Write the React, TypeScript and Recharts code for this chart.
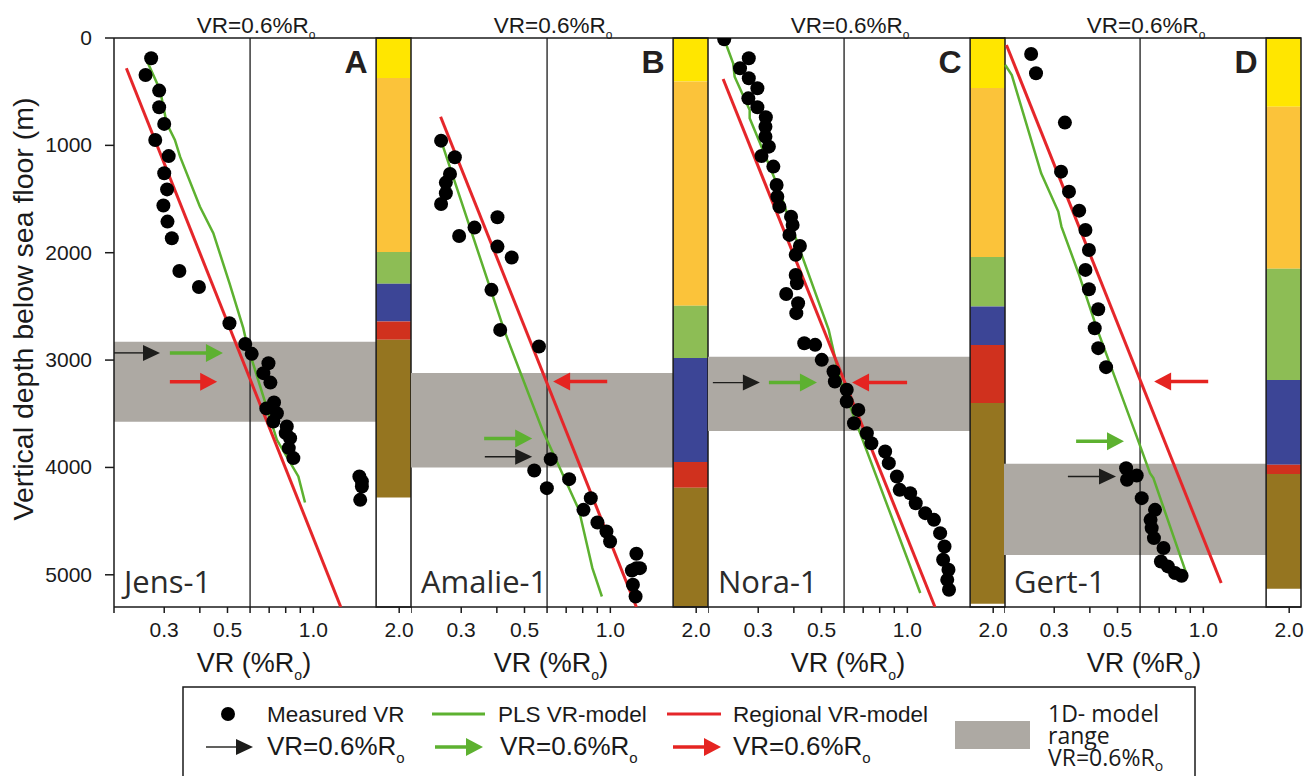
import React from "react";
import {
  ComposedChart,
  Scatter,
  XAxis,
  YAxis,
  ReferenceArea,
  ReferenceLine,
} from "recharts";

// axis ticks
const vrTicks = [0.2, 0.3, 0.4, 0.5, 0.6, 0.7, 0.8, 0.9, 1.0, 2.0];
const vrLabelled = [0.3, 0.5, 1.0, 2.0];
const depthTicks = [0, 1000, 2000, 3000, 4000, 5000];

// stratigraphic units, top to base
const unitColors = ["#FFE600", "#FBC33A", "#8DBD55", "#3C4596", "#D0311E", "#957520"];

// ---- Jens-1 ----
const jensMeasured = [
  [0.27, 189], [0.258, 345], [0.288, 490], [0.288, 645], [0.3, 800], [0.279, 950],
  [0.311, 1100], [0.3, 1260], [0.307, 1410], [0.298, 1560], [0.308, 1710], [0.319, 1865],
  [0.339, 2170], [0.397, 2320], [0.508, 2657], [0.577, 2850], [0.608, 2942], [0.696, 3030],
  [0.668, 3122], [0.707, 3210], [0.728, 3395], [0.684, 3450], [0.745, 3495], [0.724, 3572],
  [0.807, 3618], [0.8, 3680], [0.829, 3727], [0.82, 3820], [0.851, 3913], [1.45, 4084],
  [1.48, 4130], [1.48, 4178], [1.46, 4302],
];
const jensPls = [
  [0.258, 183], [0.29, 484], [0.306, 795], [0.327, 950], [0.341, 1105], [0.4, 1570],
  [0.446, 1818], [0.508, 2284], [0.568, 2703], [0.584, 2843], [0.668, 3340], [0.745, 3743],
  [0.886, 4084], [0.935, 4327],
];
const jensRegional = [[0.221, 282], [1.248, 5300]];
const jensColumn = [0, 372, 1993, 2290, 2640, 2810, 4280];
const jensBand = [2830, 3575];
const jensArrows = [
  { kind: "black", from: 0.2, to: 0.29, depth: 2933 },
  { kind: "green", from: 0.314, to: 0.482, depth: 2933 },
  { kind: "red", from: 0.314, to: 0.46, depth: 3203 },
];

// ---- Amalie-1 ----
const amalieMeasured = [
  [0.255, 956], [0.285, 1111], [0.274, 1266], [0.265, 1347], [0.265, 1446], [0.255, 1546],
  [0.295, 1844], [0.334, 1766], [0.402, 1670], [0.402, 1943], [0.451, 2045], [0.383, 2346],
  [0.411, 2719], [0.562, 2874], [0.618, 3923], [0.541, 4029], [0.599, 4193], [0.717, 4109],
  [0.854, 4286], [0.805, 4395], [0.901, 4513], [0.969, 4597], [0.998, 4690], [1.234, 4804],
  [1.234, 4938], [1.27, 4938], [1.19, 4960], [1.2, 5093], [1.226, 5202],
];
const amaliePls = [
  [0.255, 956], [0.424, 2719], [0.578, 3651], [0.776, 4395], [0.865, 4938], [0.934, 5202],
];
const amalieRegional = [[0.254, 733], [1.234, 5300]];
const amalieColumn = [0, 405, 2495, 2980, 3950, 4190, 5300];
const amalieBand = [3120, 4000];
const amalieArrows = [
  { kind: "red", from: 0.975, to: 0.63, depth: 3200 },
  { kind: "green", from: 0.361, to: 0.532, depth: 3730 },
  { kind: "black", from: 0.363, to: 0.532, depth: 3900 },
];

// ---- Nora-1 ----
const noraMeasured = [
  [0.228, 12], [0.278, 189], [0.259, 282], [0.278, 375], [0.298, 468], [0.277, 562],
  [0.298, 645], [0.319, 738], [0.318, 826], [0.318, 919], [0.327, 1012], [0.308, 1099],
  [0.339, 1198], [0.348, 1369], [0.35, 1478], [0.356, 1571], [0.391, 1664], [0.396, 1741],
  [0.386, 1834], [0.42, 1937], [0.406, 2020], [0.406, 2207], [0.41, 2284], [0.376, 2384],
  [0.414, 2470], [0.408, 2563], [0.435, 2843], [0.475, 2858], [0.501, 2998], [0.551, 3107],
  [0.557, 3200], [0.613, 3277], [0.613, 3386], [0.673, 3464], [0.65, 3588], [0.721, 3681],
  [0.748, 3775], [0.836, 3852], [0.861, 3960], [0.919, 4084], [0.94, 4209], [1.023, 4240],
  [1.07, 4333], [1.155, 4426], [1.24, 4488], [1.303, 4612], [1.35, 4736], [1.335, 4860],
  [1.394, 4953], [1.38, 5047], [1.4, 5140],
];
const noraPls = [
  [0.228, 12], [0.245, 235], [0.248, 360], [0.28, 670], [0.28, 748], [0.348, 1353],
  [0.42, 1974], [0.53, 2719], [0.581, 3184], [1.11, 5170],
];
const noraRegional = [[0.226, 382], [1.25, 5300]];
const noraColumn = [0, 465, 2040, 2500, 2860, 3400, 5270];
const noraBand = [2970, 3660];
const noraArrows = [
  { kind: "black", from: 0.208, to: 0.304, depth: 3210 },
  { kind: "green", from: 0.327, to: 0.482, depth: 3210 },
  { kind: "red", from: 0.998, to: 0.64, depth: 3210 },
];

// ---- Gert-1 ----
const gertMeasured = [
  [0.249, 149], [0.259, 329], [0.327, 788], [0.317, 1245], [0.338, 1431], [0.367, 1608],
  [0.386, 1788], [0.397, 1974], [0.386, 2160], [0.397, 2340], [0.428, 2526], [0.416, 2703],
  [0.428, 2889], [0.456, 3066], [0.536, 4007], [0.584, 4075], [0.54, 4115], [0.608, 4286],
  [0.677, 4395], [0.653, 4488], [0.659, 4565], [0.671, 4658], [0.725, 4751], [0.71, 4876],
  [0.751, 4922], [0.796, 4984], [0.839, 5009],
];
const gertPls = [
  [0.202, 251], [0.213, 345], [0.27, 1260], [0.31, 1617], [0.318, 1757], [0.365, 2191],
  [0.423, 2703], [0.584, 3713], [0.65, 4053], [0.668, 4100], [0.875, 5000],
];
const gertRegional = [[0.204, 65], [1.155, 5077]];
const gertColumn = [0, 640, 2150, 3185, 3975, 4060, 5130];
const gertBand = [3965, 4815];
const gertArrows = [
  { kind: "red", from: 1.04, to: 0.672, depth: 3200 },
  { kind: "green", from: 0.358, to: 0.527, depth: 3755 },
  { kind: "black", from: 0.335, to: 0.494, depth: 4085 },
];

const pts = (arr: number[][]) => arr.map(([x, y]) => ({ x, y }));

const wells = [
  { name: "Jens-1", letter: "A", measured: jensMeasured, pls: jensPls, regional: jensRegional, column: jensColumn, band: jensBand, arrows: jensArrows },
  { name: "Amalie-1", letter: "B", measured: amalieMeasured, pls: amaliePls, regional: amalieRegional, column: amalieColumn, band: amalieBand, arrows: amalieArrows },
  { name: "Nora-1", letter: "C", measured: noraMeasured, pls: noraPls, regional: noraRegional, column: noraColumn, band: noraBand, arrows: noraArrows },
  { name: "Gert-1", letter: "D", measured: gertMeasured, pls: gertPls, regional: gertRegional, column: gertColumn, band: gertBand, arrows: gertArrows },
];

const FONT = "'Liberation Sans', Arial, sans-serif";
const MYRIAD = "'Open Sans', sans-serif";
const INK = "#1a1a1a";
const PLS_GREEN = "#5DB130";
const REG_RED = "#E5262A";
const BAND_GREY = "#ADA9A3";
const COL_LEFT = 1.66;

const panelLefts = [114, 411, 708, 1004];
const PLOT_W = 297;

const arrowStyles: any = {
  black: { color: "#1d1d1b", width: 1.4, len: 17, half: 8 },
  green: { color: PLS_GREEN, width: 3.5, len: 17, half: 9 },
  red: { color: "#E52421", width: 3.5, len: 17, half: 9 },
};

const drawArrow = (kind: string, x1: number, x2: number, y: number, key?: any) => {
  const s = arrowStyles[kind];
  const dir = x2 >= x1 ? 1 : -1;
  const base = x2 - dir * s.len;
  return (
    <g key={key}>
      <line x1={x1} y1={y} x2={base + dir * 2} y2={y} stroke={s.color} strokeWidth={s.width} />
      <polygon points={`${x2},${y} ${base},${y - s.half} ${base},${y + s.half}`} fill={s.color} />
    </g>
  );
};

const arrowShape = (kind: string) => (p: any) => drawArrow(kind, p.x1, p.x2, p.y1);

const Dot = (p: any) => <circle cx={p.cx} cy={p.cy} r={7} fill="#000" />;
const NoDot = () => <g />;

const VrTick = (p: any) => {
  const v = p.payload.value;
  if (!vrLabelled.includes(v)) return <g />;
  return (
    <text x={p.x} y={p.y + 22} textAnchor="middle" fontSize={21} fontFamily={FONT} fill={INK}>
      {v.toFixed(1)}
    </text>
  );
};

// depth labels sit 22px left of the axis line (axis is at x=114 in panel A)
const DepthTick = (p: any) => (
  <text x={92} y={p.y} dy={7} textAnchor="end" fontSize={21} fontFamily={FONT} fill={INK}>
    {p.payload.value}
  </text>
);

const TopLabel = (p: any) => {
  const vb = p.viewBox;
  return (
    <text x={vb.x + 6} y={vb.y - 5} textAnchor="middle" fontSize={22.5} fontFamily={FONT} fill={INK}>
      VR=0.6%R<tspan fontSize={12} dy={6}>o</tspan>
    </text>
  );
};

const Panel = ({ well, left, first }: any) => {
  const yw = first ? 114 : 0;
  return (
    <div style={{ position: "absolute", left: left - yw, top: 0 }}>
      <ComposedChart
        width={yw + PLOT_W + 4}
        height={680}
        margin={{ top: 38, right: 4, bottom: 0, left: 0 }}
      >
        <XAxis
          dataKey="x"
          type="number"
          scale="log"
          domain={[0.2, 2.2]}
          ticks={vrTicks}
          interval={0}
          allowDataOverflow
          tick={<VrTick />}
          tickSize={6}
          height={73}
          stroke={INK}
          strokeWidth={1.5}
        />
        <YAxis
          dataKey="y"
          type="number"
          domain={[0, 5300]}
          reversed
          ticks={depthTicks}
          interval={0}
          allowDataOverflow
          width={yw}
          tick={first ? <DepthTick /> : false}
          tickLine={first}
          tickSize={9}
          stroke={INK}
          strokeWidth={1.5}
        />
        <ReferenceArea
          x1={0.2}
          x2={COL_LEFT}
          y1={well.band[0]}
          y2={well.band[1]}
          fill={BAND_GREY}
          fillOpacity={1}
          stroke="none"
        />
        {unitColors.map((c, i) => (
          <ReferenceArea
            key={c}
            x1={COL_LEFT}
            x2={2.2}
            y1={well.column[i]}
            y2={well.column[i + 1]}
            fill={c}
            fillOpacity={1}
            stroke="none"
          />
        ))}
        <ReferenceArea x1={COL_LEFT} x2={2.2} y1={0} y2={5300} fill="none" stroke={INK} strokeWidth={1.5} />
        <ReferenceLine x={0.6} stroke={INK} strokeWidth={1.3} label={{ content: TopLabel }} />
        <ReferenceLine y={0} stroke={INK} strokeWidth={1.5} />
        <Scatter
          data={pts(well.pls)}
          line={{ stroke: PLS_GREEN, strokeWidth: 2.5 }}
          shape={NoDot}
          isAnimationActive={false}
        />
        <Scatter
          data={pts(well.regional)}
          line={{ stroke: REG_RED, strokeWidth: 3 }}
          shape={NoDot}
          isAnimationActive={false}
        />
        <Scatter data={pts(well.measured)} shape={Dot} isAnimationActive={false} />
        {well.arrows.map((a: any, i: number) => (
          <ReferenceLine
            key={i}
            segment={[{ x: a.from, y: a.depth }, { x: a.to, y: a.depth }]}
            shape={arrowShape(a.kind)}
          />
        ))}
      </ComposedChart>
    </div>
  );
};

const Legend = () => (
  <g fontFamily={FONT} fill={INK}>
    <rect x={183} y={687} width={1012} height={120} fill="none" stroke={INK} strokeWidth={1.5} />
    <circle cx={228} cy={714} r={7} fill="#000" />
    <text x={267} y={722} fontSize={22.5}>Measured VR</text>
    <line x1={432} x2={485} y1={714} y2={714} stroke={PLS_GREEN} strokeWidth={3} />
    <text x={498} y={722} fontSize={22.5}>PLS VR-model</text>
    <line x1={667} x2={721} y1={714} y2={714} stroke={REG_RED} strokeWidth={3} />
    <text x={733} y={722} fontSize={22.5}>Regional VR-model</text>
    {drawArrow("black", 206, 253, 747)}
    <text x={267} y={755} fontSize={26}>VR=0.6%R<tspan fontSize={15} dy={8}>o</tspan></text>
    {drawArrow("green", 435, 483, 747)}
    <text x={500} y={755} fontSize={26}>VR=0.6%R<tspan fontSize={15} dy={8}>o</tspan></text>
    {drawArrow("red", 673, 721, 747)}
    <text x={733} y={755} fontSize={26}>VR=0.6%R<tspan fontSize={15} dy={8}>o</tspan></text>
    <rect x={955} y={721} width={75} height={28} fill={BAND_GREY} />
    <g fontFamily={MYRIAD} fontSize={23}>
      <text x={1048} y={722}>1D- model</text>
      <text x={1048} y={744}>range</text>
      <text x={1048} y={766}>VR=0.6%R<tspan fontSize={14} dy={5}>o</tspan></text>
    </g>
  </g>
);

export default function App() {
  return (
    <div style={{ position: "absolute", left: 0, top: 0, width: 1306, height: 776, overflow: "hidden", background: "#fff" }}>
      {wells.map((w, i) => (
        <Panel key={w.name} well={w} left={panelLefts[i]} first={i === 0} />
      ))}
      <svg width={1306} height={776} style={{ position: "absolute", left: 0, top: 0, pointerEvents: "none" }}>
        <text
          transform="translate(33,309) rotate(-90)"
          textAnchor="middle"
          fontSize={28.5}
          fontFamily={FONT}
          fill={INK}
        >
          Vertical depth below sea floor (m)
        </text>
        {wells.map((w, i) => (
          <g key={w.name}>
            <text x={panelLefts[i] + 242} y={73} textAnchor="middle" fontSize={32} fontWeight="bold" fontFamily={FONT} fill="#231f20">
              {w.letter}
            </text>
            <text x={panelLefts[i] + 10} y={593} fontSize={31} fontFamily={MYRIAD} fill="#2b2b2b">
              {w.name}
            </text>
            <text x={panelLefts[i] + 140} y={672} textAnchor="middle" fontSize={27} fontFamily={FONT} fill={INK}>
              VR (%R<tspan fontSize={14} dy={8}>o</tspan><tspan dy={-8}>)</tspan>
            </text>
          </g>
        ))}
        <Legend />
      </svg>
    </div>
  );
}
